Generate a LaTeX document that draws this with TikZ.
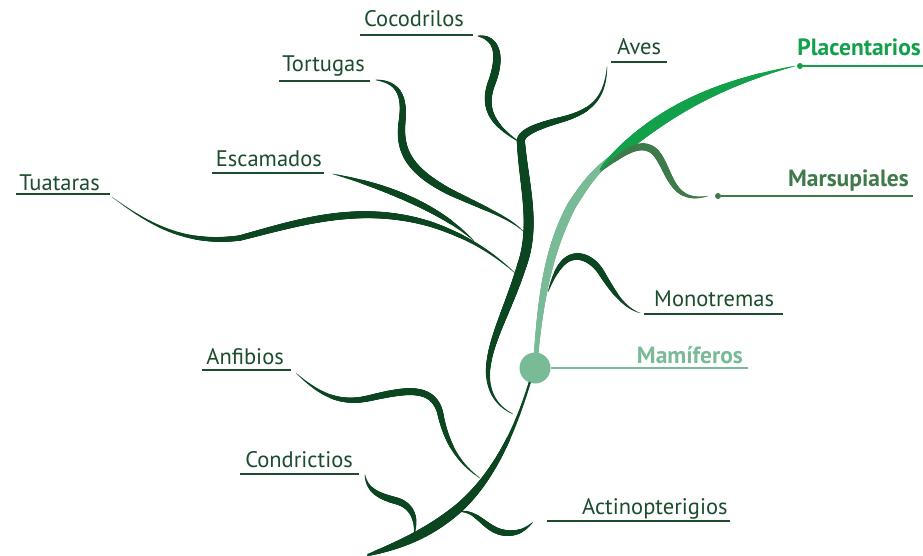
\documentclass[tikz,border=0pt]{standalone}
\usepackage{fontspec}
\setmainfont{PT Sans}
\usetikzlibrary{decorations.markings}

\definecolor{treedark}{HTML}{0B4620}
\definecolor{labdark}{HTML}{1B4D2C}
\definecolor{mamgreen}{HTML}{78BB96}
\definecolor{plagreen}{HTML}{12A04B}
\definecolor{margreen}{HTML}{3F7A4B}

\tikzset{
  % tapered stroke: colour, end radius, middle radius, shape of the swell
  branch/.style n args={4}{
    decorate, decoration={markings,
      mark=between positions 0 and 1 step 0.6pt with {
        \pgfmathsetmacro\bpos{(\pgfkeysvalueof{/pgf/decoration/mark info/distance from start}+0.3)/(\pgfdecoratedpathlength+0.6)}
        \pgfmathsetmacro\brad{#2+(#3-#2)*sin(180*\bpos^#4)}
        \fill[#1] (0,0) circle (\brad pt);
      }}
  },
  lab/.style={inner sep=0pt, font=\fontsize{22.5}{26}\selectfont, text=labdark},
  boldlab/.style={lab, font=\fontsize{23.5}{27}\selectfont\bfseries},
  rule/.style={draw=labdark, line width=1.3pt},
  dot/.style={circle, inner sep=0pt, minimum size=#1},
}

\begin{document}
\begin{tikzpicture}[x=1pt, y=-1pt]
    \fill[white] (0,0) rectangle (923,556);
    \useasboundingbox (0,0) rectangle (923,556);

    % junctions on the trunk
    \coordinate (top) at (521,143);
    \coordinate (jTor) at (524,232);
    \coordinate (jEsc) at (474,241);
    \coordinate (jTua) at (515,273);
    \coordinate (jLow) at (513,414);
    \coordinate (jMon) at (548,292);
    \coordinate (fork) at (618,153);
    \coordinate (jAnf) at (480,478);
    \coordinate (jAct) at (457,512);
    \coordinate (jCon) at (414,535);
    \coordinate (root) at (368,555);
    \coordinate (plaE) at (923,66);
    \coordinate (marE) at (913,196);

    % labels
    \node[lab, anchor=base east] (coc) at (464,27) {Cocodrilos};
    \node[lab, anchor=base east] (tor) at (365,72) {Tortugas};
    \node[lab, anchor=base east] (esc) at (322,167) {Escamados};
    \node[lab, anchor=base east] (tua) at (100,190) {Tuataras};
    \node[lab, anchor=base west] (ave) at (617,55) {Aves};
    \node[lab, anchor=base west] (mon) at (654,306) {Monotremas};
    \node[lab, anchor=base east] (anf) at (284,364) {Anfibios};
    \node[lab, anchor=base east] (con) at (353,467) {Condrictios};
    \node[lab, anchor=base west] (act) at (582,514) {Actinopterigios};
    \node[boldlab, text=mamgreen, anchor=base east] (mam) at (743,363) {Mamíferos};
    \node[boldlab, text=plagreen, anchor=base east] (pla) at (921,56) {Placentarios};
    \node[boldlab, text=margreen, anchor=base east] (mar) at (909,186) {Marsupiales};

    \draw[rule] ([shift={(-4,8)}]coc.base west) -- ([shift={(9,8)}]coc.base east);
    \draw[rule] ([shift={(-3,9)}]tor.base west) -- ([shift={(5,9)}]tor.base east);
    \draw[rule] ([shift={(-4,6)}]esc.base west) -- ([shift={(2,6)}]esc.base east);
    \draw[rule] ([shift={(-3,4)}]tua.base west) -- ([shift={(10,4)}]tua.base east);
    \draw[rule] ([shift={(-6,7)}]ave.base west) -- ([shift={(6,7)}]ave.base east);
    \draw[rule] ([shift={(-10,8)}]mon.base west) -- ([shift={(9,8)}]mon.base east);
    \draw[rule] ([shift={(-4,6)}]anf.base west) -- ([shift={(7,6)}]anf.base east);
    \draw[rule] ([shift={(-5,7)}]con.base west) -- ([shift={(6,7)}]con.base east);
    \draw[rule] ([shift={(-35,7)}]act.base west) -- ([shift={(2,7)}]act.base east);

    % reptiles and birds
    \path[branch={treedark}{0.3}{4}{0.7}] ([shift={(14,9)}]coc.base east)
        .. controls (500,38) and (500,60) .. (492,82)
        .. controls (482,108) and (492,125) .. (top);
    \path[branch={treedark}{0.3}{5}{1}] ([shift={(-10,12)}]ave.base west)
        .. controls (605,100) and (590,112) .. (560,120)
        .. controls (530,128) and (519,135) .. (top)
        .. controls (524,185) and (536,225) .. (522,265)
        .. controls (508,310) and (490,340) .. (488,370)
        .. controls (487,395) and (500,408) .. (jLow);
    \path[branch={treedark}{0.3}{4}{0.8}] ([shift={(11,8)}]tor.base east)
        .. controls (400,82) and (405,98) .. (402,122)
        .. controls (399,150) and (408,170) .. (450,192)
        .. controls (488,210) and (510,218) .. (jTor);
    \path[branch={treedark}{0.3}{3.3}{1}] ([shift={(11,7)}]esc.base east)
        .. controls (385,186) and (440,208) .. (jEsc);
    \path[branch={treedark}{0.3}{3.6}{1.15}] ([shift={(12,7)}]tua.base east)
        .. controls (150,225) and (185,245) .. (240,238)
        .. controls (300,222) and (360,203) .. (430,224)
        .. controls (470,237) and (495,255) .. (jTua);

    % fishes and amphibians
    \path[branch={treedark}{0.3}{3.5}{1}] ([shift={(12,9)}]anf.base east)
        .. controls (320,395) and (340,405) .. (370,398)
        .. controls (405,390) and (432,385) .. (440,412)
        .. controls (446,442) and (458,463) .. (jAnf);
    \path[branch={treedark}{0.3}{3.5}{1}] ([shift={(12,8)}]con.base east)
        .. controls (367,490) and (378,496) .. (397,501)
        .. controls (413,506) and (417,520) .. (jCon);
    \path[branch={treedark}{0.3}{3.2}{1.1}] (jAct)
        .. controls (478,508) and (485,532) .. (507,533)
        .. controls (520,534) and (528,527) .. ([shift={(-49,8)}]act.base west);

    % mammals
    \node[dot=31pt, fill=mamgreen] (mamdot) at (535,368) {};
    \path[branch={treedark}{1.2}{5}{1.9}] (mamdot.250)
        .. controls (515,430) and (495,475) .. (460,507)
        .. controls (430,533) and (400,545) .. (root);
    \path[branch={treedark}{0.3}{3.5}{1.15}] ([shift={(-14,7)}]mon.base west)
        .. controls (625,308) and (615,295) .. (601,272)
        .. controls (591,257) and (576,252) .. (565,261)
        .. controls (557,268) and (552,280) .. (jMon);
    \path[branch={mamgreen}{2.2}{4.6}{1.5}] (mamdot.center)
        .. controls (540,300) and (548,250) .. (572,205)
        .. controls (585,185) and (595,170) .. (fork);
    \path[branch={plagreen}{0.3}{5.6}{0.6}] (600,170)
        .. controls (650,122) and (700,88) .. (795,66);
    \path[branch={margreen}{0.3}{3.7}{0.9}] (600,172)
        .. controls (620,155) and (640,138) .. (655,152)
        .. controls (670,168) and (670,205) .. (708,196);

    \draw[mamgreen, line width=1.3pt] (mamdot) -- ([xshift=5pt]mam.base east |- mamdot.east);
    \node[dot=6pt, fill=plagreen] (pladot) at (800,66) {};
    \draw[plagreen, line width=1.5pt] (pladot) -- (plaE);
    \node[dot=6pt, fill=margreen] (mardot) at (718,196) {};
    \draw[margreen, line width=1.5pt] (mardot) -- (marE);
\end{tikzpicture}
\end{document}
